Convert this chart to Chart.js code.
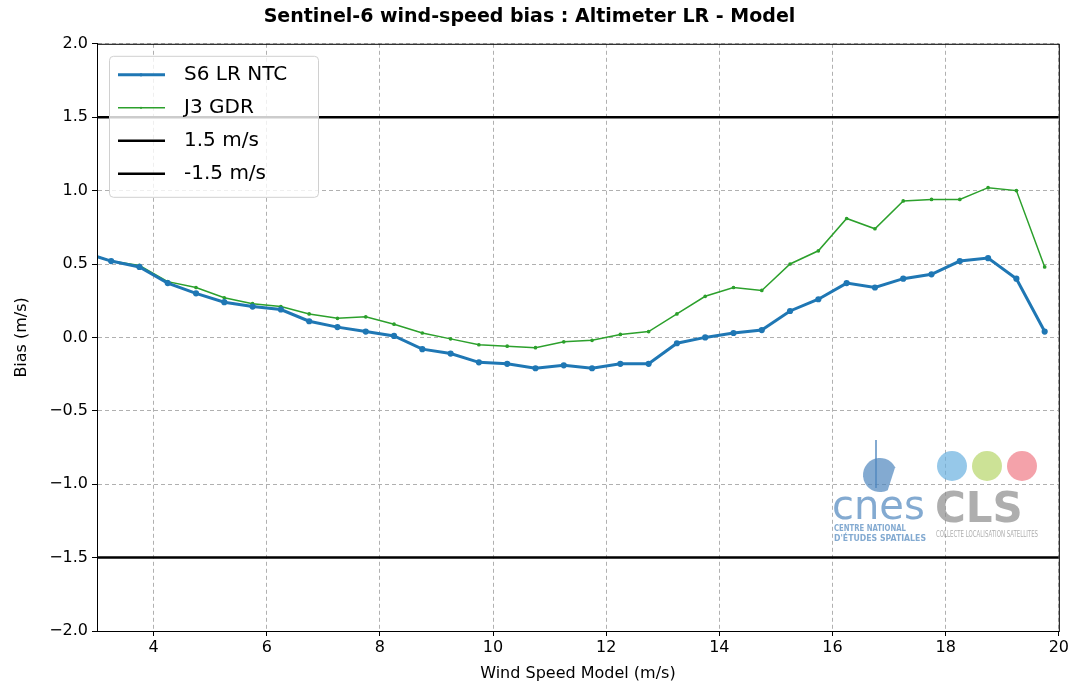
<!DOCTYPE html>
<html lang="en">
<head>
  <meta charset="UTF-8">
  <title>Sentinel-6 wind-speed bias</title>
  <script src="https://cdn.jsdelivr.net/npm/chart.js"></script>
  <style>
    html, body { margin: 0; padding: 0; background: #fff; }
    #wrap { width: 1071px; height: 683px; }
  </style>
</head>
<body>
  <div id="wrap"><canvas id="grafica" width="1071" height="683"></canvas></div>

  <script>
    // wind speed bins (m/s)
    const windSpeed = [2.75, 3.25, 3.75, 4.25, 4.75, 5.25, 5.75, 6.25, 6.75, 7.25, 7.75, 8.25,
      8.75, 9.25, 9.75, 10.25, 10.75, 11.25, 11.75, 12.25, 12.75, 13.25, 13.75, 14.25,
      14.75, 15.25, 15.75, 16.25, 16.75, 17.25, 17.75, 18.25, 18.75, 19.25, 19.75];
    const s6Bias = [0.58, 0.52, 0.48, 0.37, 0.30, 0.24, 0.21, 0.19, 0.11, 0.07, 0.04, 0.01,
      -0.08, -0.11, -0.17, -0.18, -0.21, -0.19, -0.21, -0.18, -0.18, -0.04, 0.00, 0.03,
      0.05, 0.18, 0.26, 0.37, 0.34, 0.40, 0.43, 0.52, 0.54, 0.40, 0.04];
    const j3Bias = [0.58, 0.52, 0.49, 0.38, 0.34, 0.27, 0.23, 0.21, 0.16, 0.13, 0.14, 0.09,
      0.03, -0.01, -0.05, -0.06, -0.07, -0.03, -0.02, 0.02, 0.04, 0.16, 0.28, 0.34,
      0.32, 0.50, 0.59, 0.81, 0.74, 0.93, 0.94, 0.94, 1.02, 1.00, 0.48];
    const limitUp = 1.5;
    const limitDown = -1.5;
    const xRange = [3, 20];
    const xTicks = [4, 6, 8, 10, 12, 14, 16, 18, 20];
    const yTicks = [-2.0, -1.5, -1.0, -0.5, 0.0, 0.5, 1.0, 1.5, 2.0];

    const pts = (ys) => windSpeed.map((x, i) => ({ x: x, y: ys[i] }));
    const fmt = (v) => v.toFixed(1).replace('-', '\u2212');

    // legend drawn inside the plot, matplotlib style
    const legendInside = {
      id: 'legendInside',
      afterDraw(chart) {
        const ctx = chart.ctx;
        const a = chart.chartArea;
        const x0 = a.left + 12, y0 = a.top + 12, w = 209, h = 141;
        ctx.save();
        ctx.fillStyle = 'rgba(255,255,255,0.8)';
        ctx.strokeStyle = '#d0d0d0';
        ctx.lineWidth = 1;
        ctx.beginPath();
        ctx.roundRect(x0 + 0.5, y0 + 0.5, w, h, 4);
        ctx.fill();
        ctx.stroke();
        ctx.font = '20px "DejaVu Sans"';
        ctx.textBaseline = 'middle';
        chart.data.datasets.forEach((ds, i) => {
          const yy = y0 + 19 + i * 33;
          ctx.strokeStyle = ds.borderColor;
          ctx.lineWidth = ds.borderWidth;
          ctx.beginPath();
          ctx.moveTo(x0 + 9, yy);
          ctx.lineTo(x0 + 56, yy);
          ctx.stroke();
          if (ds.pointRadius > 0) {
            ctx.fillStyle = ds.borderColor;
            ctx.beginPath();
            ctx.arc(x0 + 32, yy, ds.pointRadius, 0, Math.PI * 2);
            ctx.fill();
          }
          ctx.fillStyle = '#000';
          ctx.fillText(ds.label, x0 + 75, yy);
        });
        ctx.restore();
      }
    };

    // frame + logos
    const frame = {
      id: 'frame',
      afterDraw(chart) {
        const ctx = chart.ctx;
        const a = chart.chartArea;
        ctx.save();
        ctx.strokeStyle = '#000';
        ctx.lineWidth = 1;
        ctx.strokeRect(a.left + 0.5, a.top + 0.5, a.right - a.left, a.bottom - a.top);

        // logos (rough approximation)
        ctx.globalAlpha = 0.7;
        ctx.fillStyle = '#4f86bd';
        ctx.strokeStyle = '#4f86bd';
        ctx.textBaseline = 'alphabetic';
        ctx.font = '40px "DejaVu Sans"';
        ctx.fillText('cnes', 832, 519, 94);
        ctx.beginPath();
        ctx.arc(880, 475, 17, 0.35 * Math.PI, 1.85 * Math.PI);
        ctx.fill();
        ctx.lineWidth = 2;
        ctx.beginPath();
        ctx.moveTo(876, 440);
        ctx.lineTo(876, 488);
        ctx.stroke();
        ctx.font = 'bold 9px "DejaVu Sans"';
        ctx.fillText('CENTRE NATIONAL', 834, 531, 72);
        ctx.fillText("D'ÉTUDES SPATIALES", 834, 541, 92);
        ctx.fillStyle = '#8c8c8c';
        ctx.font = 'bold 42px "DejaVu Sans"';
        ctx.fillText('CLS', 935, 522, 104);
        ctx.font = '8px "DejaVu Sans"';
        ctx.fillText('COLLECTE LOCALISATION SATELLITES', 936, 537, 102);
        [['#6ab0e0', 952], ['#b6d66a', 987], ['#f07a86', 1022]].forEach(c => {
          ctx.fillStyle = c[0];
          ctx.beginPath();
          ctx.arc(c[1], 466, 15, 0, Math.PI * 2);
          ctx.fill();
        });
        ctx.restore();
      }
    };

    new Chart(document.getElementById('grafica'), {
      type: 'line',
      data: {
        datasets: [
          {
            label: 'S6 LR NTC',
            data: pts(s6Bias),
            borderColor: '#1f77b4',
            backgroundColor: '#1f77b4',
            borderWidth: 3,
            pointRadius: 1.6,
            pointHoverRadius: 1.6,
            fill: false
          },
          {
            label: 'J3 GDR',
            data: pts(j3Bias),
            borderColor: '#2ca02c',
            backgroundColor: '#2ca02c',
            borderWidth: 1.5,
            pointRadius: 1.1,
            pointHoverRadius: 1.1,
            fill: false
          },
          {
            label: '1.5 m/s',
            data: [{ x: xRange[0], y: limitUp }, { x: xRange[1], y: limitUp }],
            borderColor: '#000',
            borderWidth: 2.5,
            pointRadius: 0,
            fill: false
          },
          {
            label: '-1.5 m/s',
            data: [{ x: xRange[0], y: limitDown }, { x: xRange[1], y: limitDown }],
            borderColor: '#000',
            borderWidth: 2.5,
            pointRadius: 0,
            fill: false
          }
        ]
      },
      options: {
        responsive: false,
        animation: false,
        layout: { padding: { left: 0, right: 12, top: 0, bottom: 0 } },
        plugins: {
          legend: { display: false },
          tooltip: { enabled: false },
          title: {
            display: true,
            text: 'Sentinel-6 wind-speed bias : Altimeter LR - Model',
            color: '#000',
            font: { family: 'DejaVu Sans', size: 19, weight: 'bold', lineHeight: 1.2 },
            padding: { top: 6, bottom: 15 }
          }
        },
        scales: {
          x: {
            type: 'linear',
            min: xRange[0],
            max: xRange[1],
            afterBuildTicks: (s) => { s.ticks = xTicks.map(v => ({ value: v })); },
            afterFit: (s) => { s.height = 52; },
            grid: {
              color: '#b0b0b0',
              tickLength: 5,
              tickColor: '#000',
              tickBorderDash: []
            },
            border: { display: true, color: '#000', dash: [4, 3] },
            ticks: {
              color: '#000',
              font: { family: 'DejaVu Sans', size: 16 },
              padding: 2,
              maxRotation: 0,
              callback: (v) => String(v)
            },
            title: {
              display: true,
              text: 'Wind Speed Model (m/s)',
              color: '#000',
              font: { family: 'DejaVu Sans', size: 16 },
              padding: { top: 2, bottom: 0 }
            }
          },
          y: {
            min: yTicks[0],
            max: yTicks[yTicks.length - 1],
            afterBuildTicks: (s) => { s.ticks = yTicks.map(v => ({ value: v })); },
            afterFit: (s) => { s.width = 97; },
            grid: {
              color: '#b0b0b0',
              tickLength: 5,
              tickColor: '#000',
              tickBorderDash: []
            },
            border: { display: true, color: '#000', dash: [4, 3] },
            ticks: {
              color: '#000',
              font: { family: 'DejaVu Sans', size: 16 },
              padding: 4,
              callback: (v) => fmt(v)
            },
            title: {
              display: true,
              text: 'Bias (m/s)',
              color: '#000',
              font: { family: 'DejaVu Sans', size: 16 },
              padding: { top: 12, bottom: 4 }
            }
          }
        }
      },
      plugins: [legendInside, frame]
    });
  </script>
</body>
</html>
